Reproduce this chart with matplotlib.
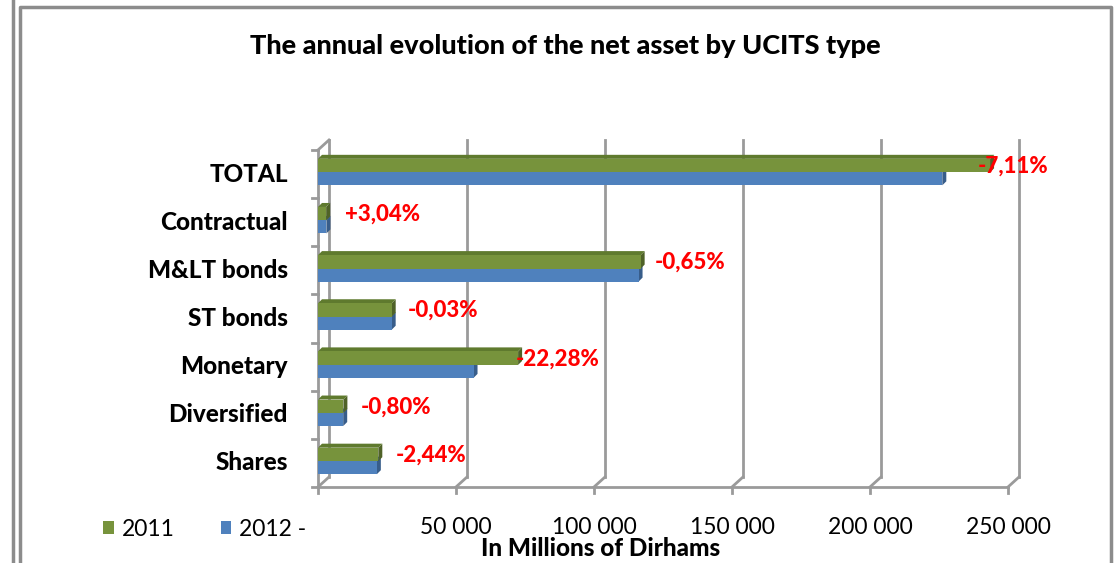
import matplotlib
matplotlib.use('Agg')
import matplotlib.pyplot as plt
from matplotlib.patches import Polygon, Rectangle
from matplotlib.lines import Line2D
import numpy as np

plt.rcParams['font.family'] = ['Lato', 'DejaVu Sans']

categories = ['Shares', 'Diversified', 'Monetary', 'ST bonds', 'M&LT bonds', 'Contractual', 'TOTAL']
net_2011 = [21850, 9200, 72500, 26700, 116900, 2950, 243500]
net_2012 = [21320, 9130, 56350, 26690, 116140, 3040, 226200]
changes = ['-2,44%', '-0,80%', '-22,28%', '-0,03%', '-0,65%', '+3,04%', '-7,11%']
xticks = [50000, 100000, 150000, 200000, 250000]
xtick_labels = ['50 000', '100 000', '150 000', '200 000', '250 000']

# label nudges in pixels (Excel placed them a bit irregularly)
label_dx = [17, 17, -2, 16, 14, 19, -12]

W, H = 1120, 563
fig = plt.figure(figsize=(W / 100, H / 100), dpi=100)
ax = fig.add_axes([318 / W, 76 / H, 690 / W, 337 / H])
xmax = 250000
ax.set_xlim(0, xmax)
ax.set_ylim(-0.5, len(categories) - 0.5)
ax.axis('off')

px_x = xmax / 690.0          # data units per pixel (x)
px_y = 1 / (337.0 / 7)       # data units per pixel (y)

grid_c = '#9a9a9a'
# back wall offsets
bdx, bdy = 11 * px_x, 10 * px_y
top_y = len(categories) - 0.5 + bdy
bot = -0.5
for x in [0] + xticks:
    ax.add_line(Line2D([x + bdx, x + bdx], [bot + bdy, top_y], color=grid_c, lw=2, clip_on=False, zorder=1))
    ax.add_line(Line2D([x, x + bdx], [bot, bot + bdy], color=grid_c, lw=2, clip_on=False, zorder=1))
    ax.add_line(Line2D([x, x], [bot, bot - 6 * px_y], color=grid_c, lw=2, clip_on=False, zorder=1))
# floor front line and left wall front
ax.add_line(Line2D([0, xmax], [bot, bot], color=grid_c, lw=2, clip_on=False, zorder=1))
ax.add_line(Line2D([0, 0], [bot, len(categories) - 0.5], color=grid_c, lw=2, clip_on=False, zorder=1))
ax.add_line(Line2D([0, bdx], [len(categories) - 0.5, top_y], color=grid_c, lw=2, clip_on=False, zorder=1))
for yb in np.arange(-0.5, len(categories), 1.0):
    ax.add_line(Line2D([-6 * px_x, 0], [yb, yb], color=grid_c, lw=2, clip_on=False, zorder=1))

# bars with fake 3D depth
bh = 13.5 * px_y
ddx, ddy = 4 * px_x, 4 * px_y
y = np.arange(len(categories))


def bar3d(yc, v, face, top, side, z):
    y0, y1 = yc - bh / 2, yc + bh / 2
    ax.add_patch(Polygon([(v, y0), (v, y1), (v + ddx, y1 + ddy), (v + ddx, y0 + ddy)],
                         closed=True, fc=side, ec='none', zorder=z))
    ax.add_patch(Polygon([(0, y1), (v, y1), (v + ddx, y1 + ddy), (ddx, y1 + ddy)],
                         closed=True, fc=top, ec='none', zorder=z))
    ax.barh([yc], [v], height=bh, color=face, zorder=z + 0.5)


for i in y:
    bar3d(i - 4.5 * px_y, net_2012[i], '#4f81bd', '#4270a8', '#385d8a', 3)
    bar3d(i + 8.5 * px_y, net_2011[i], '#77933c', '#5f7a2e', '#4f6228', 4)

for i in y:
    ax.text(net_2011[i] + label_dx[i] * px_x, i + 8 * px_y, changes[i], color='#ff0000',
            fontsize=16, fontweight='black', ha='left', va='center', zorder=6)

for i, c in enumerate(categories):
    ax.text(-30 * px_x, i, c, ha='right', va='center', fontsize=17.5, fontweight='black', color='black')

for x, lab in zip(xticks, xtick_labels):
    ax.text(x, bot - 41 * px_y, lab, ha='center', va='center', fontsize=16.5, color='black')

fig.text(601 / W, 1 - 548 / H, 'In Millions of Dirhams', ha='center', va='center',
         fontsize=17.5, fontweight='black')
fig.text(565 / W, 1 - 46 / H, 'The annual evolution of the net asset by UCITS type',
         ha='center', va='center', fontsize=19.5, fontweight='black')

handles = [Rectangle((0, 0), 1, 1, fc='#77933c'), Rectangle((0, 0), 1, 1, fc='#4f81bd')]
fig.legend(handles, ['2011', '2012 -'], loc='center left', bbox_to_anchor=(92 / W, 1 - 529 / H),
           ncol=2, frameon=False, fontsize=16.5, handlelength=0.45, handleheight=0.5,
           handletextpad=0.35, columnspacing=2.0, borderpad=0)

# outer frames
fc = '#8c8c8c'
fig.add_artist(Line2D([12.5 / W, 12.5 / W], [0, 1], color=fc, lw=2.5))
fig.add_artist(Line2D([19.5 / W, 19.5 / W, 1111 / W, 1111 / W], [0, 1 - 7 / H, 1 - 7 / H, 0], color=fc, lw=2.5))

fig.savefig('out.png', dpi=100)
